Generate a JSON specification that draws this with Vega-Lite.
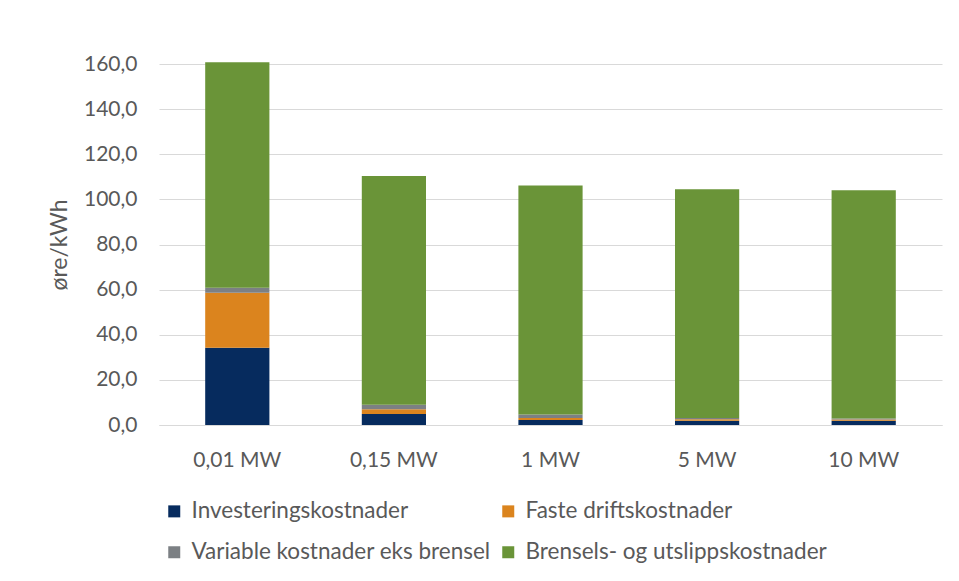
{
  "$schema": "https://vega.github.io/schema/vega-lite/v6.json",
  "autosize": {"type": "none"},
  "width": 783,
  "height": 361,
  "padding": {"left": 159, "top": 64, "right": 17, "bottom": 156},
  "background": "white",
  "data": {"values": [
    {"kat": "0,01 MW", "serie": "Investeringskostnader", "o": 1, "v": 34.2},
    {"kat": "0,01 MW", "serie": "Faste driftskostnader", "o": 2, "v": 24.4},
    {"kat": "0,01 MW", "serie": "Variable kostnader eks brensel", "o": 3, "v": 2.2},
    {"kat": "0,01 MW", "serie": "Brensels- og utslippskostnader", "o": 4, "v": 100.0},
    {"kat": "0,15 MW", "serie": "Investeringskostnader", "o": 1, "v": 4.9},
    {"kat": "0,15 MW", "serie": "Faste driftskostnader", "o": 2, "v": 2.1},
    {"kat": "0,15 MW", "serie": "Variable kostnader eks brensel", "o": 3, "v": 2.0},
    {"kat": "0,15 MW", "serie": "Brensels- og utslippskostnader", "o": 4, "v": 101.4},
    {"kat": "1 MW", "serie": "Investeringskostnader", "o": 1, "v": 2.2},
    {"kat": "1 MW", "serie": "Faste driftskostnader", "o": 2, "v": 0.9},
    {"kat": "1 MW", "serie": "Variable kostnader eks brensel", "o": 3, "v": 1.6},
    {"kat": "1 MW", "serie": "Brensels- og utslippskostnader", "o": 4, "v": 101.5},
    {"kat": "5 MW", "serie": "Investeringskostnader", "o": 1, "v": 1.9},
    {"kat": "5 MW", "serie": "Faste driftskostnader", "o": 2, "v": 0.6},
    {"kat": "5 MW", "serie": "Variable kostnader eks brensel", "o": 3, "v": 0.6},
    {"kat": "5 MW", "serie": "Brensels- og utslippskostnader", "o": 4, "v": 101.4},
    {"kat": "10 MW", "serie": "Investeringskostnader", "o": 1, "v": 1.9},
    {"kat": "10 MW", "serie": "Faste driftskostnader", "o": 2, "v": 0.5},
    {"kat": "10 MW", "serie": "Variable kostnader eks brensel", "o": 3, "v": 0.5},
    {"kat": "10 MW", "serie": "Brensels- og utslippskostnader", "o": 4, "v": 101.1}
  ]},
  "mark": {"type": "bar"},
  "encoding": {
    "x": {
      "field": "kat", "type": "nominal", "sort": null,
      "scale": {"paddingInner": 0.59, "paddingOuter": 0.295},
      "axis": {"title": null, "labelAngle": 0, "ticks": false, "domain": true, "domainColor": "#d9d9d9",
               "labelFont": "Lato", "labelFontSize": 21, "labelColor": "#595959", "labelPadding": 24}
    },
    "y": {
      "field": "v", "type": "quantitative", "stack": "zero",
      "scale": {"domain": [0, 160], "nice": false},
      "axis": {"title": "øre/kWh", "values": [0, 20, 40, 60, 80, 100, 120, 140, 160],
               "labelExpr": "replace(format(datum.value, '.1f'), '.', ',')",
               "ticks": false, "domain": false, "grid": true, "gridColor": "#d9d9d9",
               "labelFont": "Lato", "labelFontSize": 21, "labelColor": "#595959", "labelPadding": 22,
               "titleFont": "Lato", "titleFontSize": 23, "titleFontWeight": "normal", "titleColor": "#595959", "titlePadding": 12}
    },
    "color": {
      "field": "serie", "type": "nominal",
      "scale": {
        "domain": ["Investeringskostnader", "Faste driftskostnader", "Variable kostnader eks brensel", "Brensels- og utslippskostnader"],
        "range": ["#062b5e", "#db841e", "#7c8084", "#6a9438"]
      },
      "legend": {
        "title": null, "orient": "none", "legendX": 4, "legendY": 436, "direction": "horizontal", "columns": 2,
        "symbolType": "square", "symbolSize": 144, "symbolStrokeWidth": 0,
        "labelFont": "Lato", "labelFontSize": 22.5, "labelColor": "#595959", "labelOffset": 6, "labelLimit": 0,
        "rowPadding": 18, "columnPadding": 6
      }
    },
    "order": {"field": "o", "type": "quantitative"}
  },
  "config": {"view": {"stroke": null}}
}
